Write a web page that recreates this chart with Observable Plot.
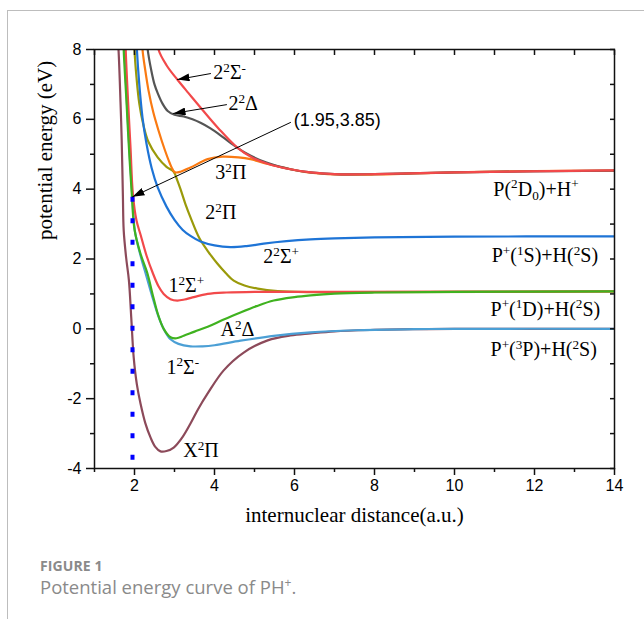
<!DOCTYPE html>
<html>
<head>
<meta charset="utf-8">
<script src="https://cdn.jsdelivr.net/npm/d3@7"></script>
<script src="https://cdn.jsdelivr.net/npm/@observablehq/plot@0.6"></script>
<style>
  html, body { margin: 0; padding: 0; background: #fff; }
  #wrap { position: relative; width: 644px; height: 619px; overflow: hidden; }
  #border { position: absolute; left: 7px; top: 10px; right: 0; bottom: 0;
            border-left: 1px solid #bdbdbd; border-top: 1px solid #bdbdbd; }
  #chart { position: absolute; left: 0; top: 0; }
  #cap { position: absolute; left: 40px; top: 557px; font-family: "Open Sans", sans-serif; color: #8a8a8a; }
  #cap .fig { font-weight: 700; font-size: 14px; line-height: 18px; letter-spacing: 0.1px; }
  #cap .txt { font-size: 18.5px; line-height: 23px; }
  #cap sup { font-size: 12px; vertical-align: 7px; line-height: 0; }
</style>
</head>
<body>
<div id="wrap">
  <div id="border"></div>
  <div id="chart"></div>
  <div id="cap"><div class="fig">FIGURE 1</div><div class="txt">Potential energy curve of PH<sup>+</sup>.</div></div>
</div>
<script>
// ---- data (x: internuclear distance a.u., y: energy eV) ----
const X2Pi = [[1.56,8.6],[1.6,8],[1.65,6.5],[1.68,5.4],[1.71,3.8],[1.73,2.82],[1.79,2.05],[1.86,1.39],[1.92,0.3],[1.98,-0.82],[2.06,-1.6],[2.15,-2.14],[2.27,-2.7],[2.4,-3.11],[2.52,-3.38],[2.65,-3.51],[2.8,-3.5],[2.98,-3.4],[3.2,-3.1],[3.4,-2.71],[3.6,-2.28],[3.83,-1.85],[4.23,-1.19],[4.73,-0.68],[5.33,-0.33],[5.9,-0.19],[6.4,-0.13],[7,-0.07],[8,-0.03],[9,-0.01],[10,0],[12,0],[14,0]];
const S1minus = [[1.74,8.6],[1.75,8],[1.81,6.5],[1.87,5.2],[1.94,3.9],[2.01,2.8],[2.15,2.1],[2.3,1.5],[2.45,0.9],[2.6,0.35],[2.75,-0.05],[2.9,-0.3],[3.1,-0.43],[3.4,-0.5],[3.7,-0.5],[4.0,-0.47],[4.65,-0.34],[5.48,-0.2],[6.4,-0.1],[7.5,-0.04],[9,-0.01],[10,0],[14,0]];
const A2Delta = [[1.72,8.6],[1.73,8],[1.8,6.5],[1.86,5.2],[1.93,3.9],[2.0,2.85],[2.15,2.15],[2.32,1.6],[2.45,1.0],[2.58,0.44],[2.73,0.0],[2.9,-0.24],[3.05,-0.27],[3.23,-0.2],[3.5,-0.08],[3.83,0.06],[4.2,0.25],[4.65,0.47],[5.05,0.65],[5.48,0.81],[6.0,0.91],[6.4,0.96],[7,1.01],[8,1.04],[10,1.06],[14,1.07]];
const S1plus = [[1.77,8.6],[1.78,8],[1.84,6.5],[1.9,5.2],[1.96,3.85],[2.05,3.1],[2.15,2.7],[2.3,2.1],[2.45,1.62],[2.6,1.22],[2.73,1.0],[2.9,0.85],[3.07,0.81],[3.25,0.84],[3.45,0.9],[3.83,1.0],[4.3,1.04],[5,1.06],[7,1.06],[14,1.07]];
const Pi2 = [[1.99,8.6],[2.0,8],[2.05,7.2],[2.12,6.45],[2.22,5.85],[2.35,5.35],[2.58,4.91],[2.8,4.64],[2.98,4.5],[3.07,4.25],[3.15,4.0],[3.28,3.55],[3.4,3.19],[3.62,2.6],[3.85,2.2],[4.07,1.87],[4.28,1.6],[4.48,1.38],[4.75,1.24],[5.08,1.15],[5.58,1.08],[6.4,1.05],[8,1.05],[14,1.07]];
const S2plus = [[2.04,8.6],[2.06,8],[2.12,7.0],[2.2,6.05],[2.3,5.3],[2.43,4.6],[2.58,4.05],[2.8,3.5],[3.0,3.12],[3.2,2.84],[3.4,2.66],[3.65,2.5],[4.0,2.39],[4.4,2.34],[4.8,2.37],[5.23,2.44],[5.8,2.51],[6.4,2.56],[7,2.59],[8,2.62],[10,2.64],[14,2.65]];
const Pi3 = [[2.18,8.6],[2.2,8],[2.27,7.4],[2.35,6.83],[2.47,6.2],[2.6,5.68],[2.75,5.15],[2.88,4.75],[2.96,4.55],[3.02,4.48],[3.15,4.5],[3.4,4.62],[3.83,4.86],[4.2,4.93],[4.6,4.91],[4.9,4.86],[5.23,4.75],[5.6,4.65],[5.9,4.57],[6.4,4.47],[7,4.42],[8,4.42],[9,4.45],[10,4.48],[12,4.52],[14,4.53]];
const D2 = [[2.3,8.6],[2.33,8],[2.42,7.4],[2.5,7.0],[2.58,6.75],[2.7,6.45],[2.83,6.24],[3.0,6.13],[3.23,6.08],[3.45,6.0],[3.65,5.9],[3.9,5.74],[4.2,5.5],[4.48,5.26],[4.8,5.02],[5.3,4.76],[5.9,4.57],[6.4,4.48],[7,4.43],[8,4.43],[10,4.48],[14,4.53]];
const S2minus = [[2.55,8.6],[2.6,8],[2.8,7.55],[3.07,7.14],[3.35,6.75],[3.65,6.34],[4.1,5.74],[4.57,5.19],[4.95,4.9],[5.33,4.73],[5.9,4.57],[6.4,4.48],[7,4.43],[8,4.43],[10,4.48],[14,4.54]];

const stateNames  = ["X2Pi","S1minus","Pi2","S1plus","A2Delta","S2plus","Pi3","D2","S2minus"];
const stateColors = ["#8c4a5a","#4b9fd5","#9a9a0a","#f2494a","#3fb21f","#1e74d6","#fa7a12","#555555","#f2494a"];
const stateData   = [X2Pi, S1minus, Pi2, S1plus, A2Delta, S2plus, Pi3, D2, S2minus];

// curve labels: text, x, y  (^c = superscript char, _c = subscript char)
const labelText = ["2^2Σ^-","2^2Δ","3^2Π","2^2Π","2^2Σ^+","1^2Σ^+","A^2Δ","1^2Σ^-","X^2Π","P(^2D_0)+H^+","P^+(^1S)+H(^2S)","P^+(^1D)+H(^2S)","P^+(^3P)+H(^2S)"];
const labelX    = [3.97, 4.35, 4.02, 3.77, 5.22, 2.85, 4.15, 2.8, 3.22, 10.97, 10.93, 10.9, 10.9];
const labelY    = [7.34, 6.45, 4.48, 3.33, 2.07, 1.24, -0.02, -1.1, -3.48, 4.0, 2.1, 0.56, -0.6];

// annotation point and arrows
const pointLabel = "(1.95,3.85)";
const pointLabelXY = [5.98, 5.97];
const arrowX1 = [3.9, 4.3, 5.9];
const arrowY1 = [7.31, 6.42, 5.91];
const arrowX2 = [3.075, 2.975, 1.95];
const arrowY2 = [7.14, 6.17, 3.78];
const dottedX = 1.95, dottedTop = 3.78, dottedBottom = -3.84;

const xMajor = [2,4,6,8,10,12,14];
const xMinor = [1,3,5,7,9,11,13];
const yMajor = [-4,-2,0,2,4,6,8];
const yMinor = [-3,-1,1,3,5,7];
const xAll = d3.range(1,15);
const yAll = d3.range(-4,9);

const xTitle = "internuclear distance(a.u.)";
const yTitle = "potential energy (eV)";

// ---- build ----
const rows = [];
stateData.forEach((arr, i) => arr.forEach(([x, y]) => rows.push({x, y, state: stateNames[i]})));
const labels = labelText.map((t, i) => ({t, x: labelX[i], y: labelY[i]}));
const arrows = arrowX1.map((d, i) => ({x1: arrowX1[i], y1: arrowY1[i], x2: arrowX2[i], y2: arrowY2[i]}));

const serif = "'Liberation Serif', 'Times New Roman', serif";
const sans = "'Liberation Sans', Arial, sans-serif";

const lineMarks = stateNames.map((s, i) =>
  Plot.line(rows.filter(r => r.state === s), {x: "x", y: "y", stroke: stateColors[i], strokeWidth: 2.2, curve: "catmull-rom", clip: true})
);

const chart = Plot.plot({
  width: 644, height: 530,
  marginLeft: 94, marginRight: 30, marginTop: 49, marginBottom: 62,
  x: {domain: [1, 14]},
  y: {domain: [-4, 8]},
  style: {fontFamily: sans, fontSize: "16px", color: "#000", background: "transparent", overflow: "visible"},
  marks: [
    ...lineMarks,
    Plot.link([{x: dottedX}], {x1: "x", x2: "x", y1: () => dottedTop, y2: () => dottedBottom, stroke: "#0000ff", strokeWidth: 4, strokeDasharray: "5,16.5"}),
    Plot.frame({stroke: "#111", strokeWidth: 1.5}),
    Plot.axisX(xMajor, {anchor: "bottom", tickSize: 7, tickPadding: 4, tickFormat: d => String(d), label: null, fontSize: 16, stroke: "#111", strokeWidth: 1.5}),
    Plot.axisX(xMinor, {anchor: "bottom", tickSize: 4, tickFormat: () => "", label: null, stroke: "#111", strokeWidth: 1.5}),
    Plot.axisX(xAll, {anchor: "top", tickSize: -5, tickFormat: () => "", label: null, stroke: "#111", strokeWidth: 1.5}),
    Plot.axisY(yMajor, {anchor: "left", tickSize: 8, tickPadding: 5, tickFormat: d => String(d), label: null, fontSize: 16, stroke: "#111", strokeWidth: 1.5}),
    Plot.axisY(yMinor, {anchor: "left", tickSize: 4, tickFormat: () => "", label: null, stroke: "#111", strokeWidth: 1.5}),
    Plot.axisY(yAll, {anchor: "right", tickSize: -5, tickFormat: () => "", label: null, stroke: "#111", strokeWidth: 1.5}),
    Plot.text([xTitle], {frameAnchor: "bottom", dy: 53, text: d => d, fontFamily: serif, fontSize: 21, fill: "#000"}),
    Plot.text([yTitle], {frameAnchor: "left", dx: -49, dy: -19, rotate: -90, text: d => d, fontFamily: serif, fontSize: 21, fill: "#000"}),
    Plot.arrow(arrows, {x1: "x1", y1: "y1", x2: "x2", y2: "y2", stroke: "#000", strokeWidth: 1, headLength: 0}),
    Plot.text(labels, {x: "x", y: "y", text: "t", textAnchor: "start", lineAnchor: "middle", fontFamily: serif, fontSize: 20, fill: "#000"}),
    Plot.text([pointLabel], {x: () => pointLabelXY[0], y: () => pointLabelXY[1], text: d => d, textAnchor: "start", lineAnchor: "middle", fontFamily: sans, fontSize: 18, fill: "#000"})
  ]
});

// ---- post-processing: rich text, arrowheads, empty tick labels ----
const NS = "http://www.w3.org/2000/svg";
function richify(el, fs) {
  const s = el.textContent;
  if (!/[\^_]/.test(s)) return;
  while (el.firstChild) el.removeChild(el.firstChild);
  let cur = 0, i = 0;
  while (i < s.length) {
    const c = s[i];
    const t = document.createElementNS(NS, "tspan");
    let target;
    if ((c === "^" || c === "_") && i + 1 < s.length) {
      target = c === "^" ? -0.36 * fs : 0.2 * fs;
      t.setAttribute("font-size", (0.66 * fs).toFixed(1));
      t.textContent = s[i + 1];
      i += 2;
    } else {
      let j = i;
      while (j < s.length && s[j] !== "^" && s[j] !== "_") j++;
      target = 0;
      t.textContent = s.slice(i, j);
      i = j;
    }
    if (target !== cur) t.setAttribute("dy", (target - cur).toFixed(2));
    cur = target;
    el.appendChild(t);
  }
}
chart.querySelectorAll("text").forEach(el => {
  if (el.textContent === "") { el.remove(); return; }
  richify(el, 20);
});
const defs = document.createElementNS(NS, "defs");
defs.innerHTML = '<marker id="ahead" viewBox="0 0 12 8" refX="12" refY="4" markerWidth="12" markerHeight="8" markerUnits="userSpaceOnUse" orient="auto"><path d="M0,0L12,4L0,8z" fill="#000"/></marker>';
chart.insertBefore(defs, chart.firstChild);
chart.querySelectorAll('g[aria-label="arrow"] path').forEach(p => {
  // keep only the shaft (first M..L segment) and add a filled head
  const d = p.getAttribute("d") || "";
  const m = d.match(/^M[^M]*/);
  if (m) p.setAttribute("d", m[0].replace(/M\s*[-\d.,\s]*$/, ""));
  p.setAttribute("marker-end", "url(#ahead)");
});

document.getElementById("chart").appendChild(chart);
</script>
</body>
</html>
